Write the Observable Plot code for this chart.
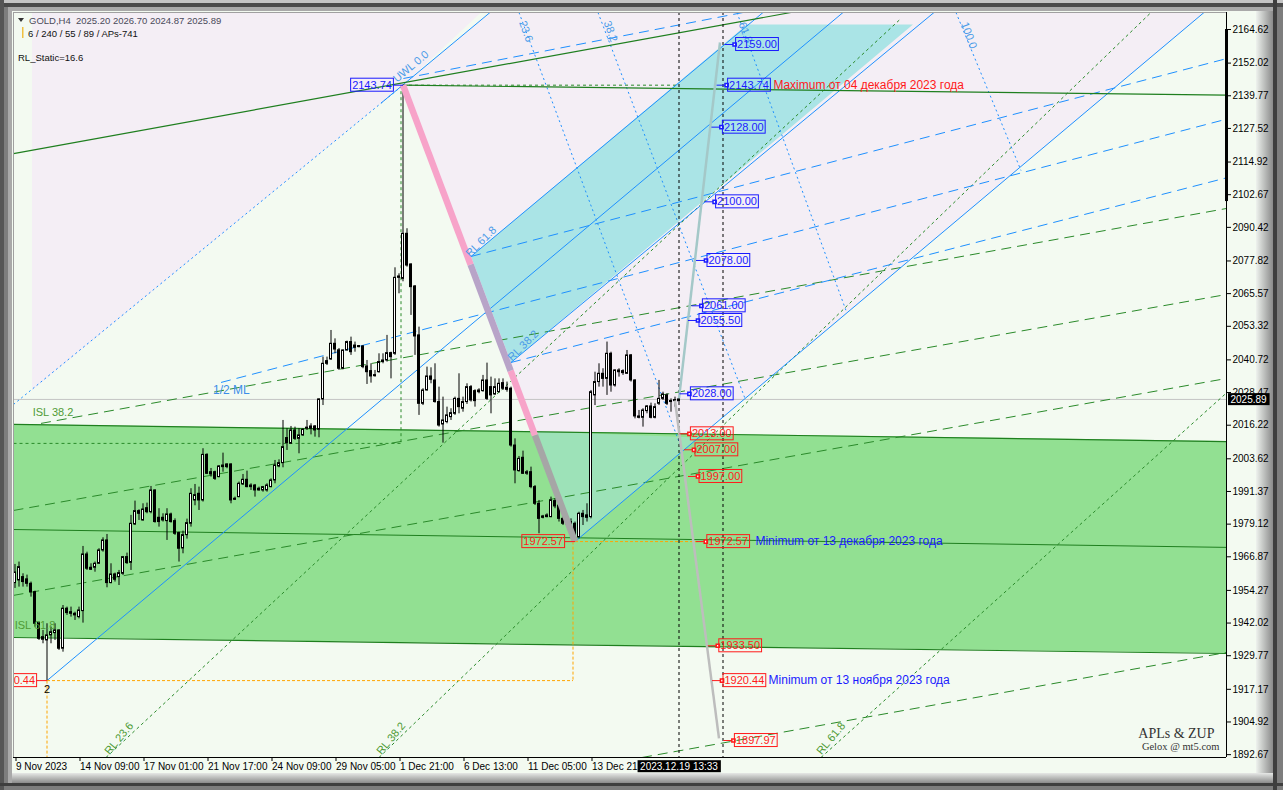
<!DOCTYPE html>
<html><head><meta charset="utf-8">
<script src="https://cdn.jsdelivr.net/npm/d3@7"></script>
<script src="https://cdn.jsdelivr.net/npm/@observablehq/plot@0.6"></script>
<style>
html,body{margin:0;padding:0;background:#7d7d7d;}
#chart{width:1283px;height:790px;overflow:hidden;}
svg{display:block;}
</style></head><body><div id="chart"></div>
<script>
// ---------- candle data (GOLD, H4) ----------
const opens = [
1957,1958.0,1959.25,1958.4,1956.75,1953.6,1942.1,1935.75,1935.5,1937.4,
1938.25,1939.25,1932.4,1947.4,1946.1,1945.5,1944.25,1946.5,1967.75,1962.75,
1962.75,1964.25,1969.25,1973.0,1957.0,1960.25,1959.25,1960.5,1966.75,1964.6,
1979.0,1984.0,1980.5,1985.1,1983.6,1991.75,1981.5,1981.5,1980.25,1982.75,
1980.25,1975.75,1970,1975,1979.25,1988,1990.5,1988.0,2005.1,1998.6,
1998.6,1996.75,2000.5,2001.5,2001.5,1988.6,1989.25,1994.0,1995.75,1993.6,
1993.6,1992.4,1991.75,1991.75,1993.0,1995.5,2000.75,2002.0,2011.4,2009.25,
2014.25,2011.1,2012.4,2014.9,2015.75,2015.75,2014.5,2025.9,2040.25,2040.9,
2046.75,2044.3,2037.4,2044.25,2047.4,2046.1,2045.75,2045.75,2038.25,2036.5,
2034.9,2036.1,2039.9,2040.5,2043.25,2043.0,2072.0,2071.1,2088.0,2076.5,
2068.25,2049.9,2024.25,2029.25,2034.5,2033.0,2024.9,2016.5,2017.4,2019.25,
2020.5,2026.1,2022.4,2024.9,2030.5,2029.0,2029.25,2029.0,2033.0,2030.5,
2027.75,2028.6,2032.0,2030.25,2029.9,2008.6,1999.0,2004.0,1998.0,1998.6,
1993.0,1986.75,1982.0,1981.75,1981.75,1987.75,1986.1,1981.1,1979.5,1979.9,
1979.25,1974.25,1983.0,1982.4,1981.75,2027.4,2032.4,2035.5,2033.6,2043.0,
2031.1,2036.75,2036.5,2035.5,2042.4,2033.0,2019.5,2019.0,2021.5,2023.25,
2019.0,2024.25,2026.1,2027.4,2025.25,2025.25,2025.20];
const highs = [
1964,1964.9,1960.5,1960,1957.4,1954,1942.4,1939.25,1941.75,1940.5,
1941.75,1939.5,1948.6,1948,1948,1946.1,1948,1970.75,1968.6,1964.25,
1964.9,1969.9,1974.0,1975.25,1964.25,1960.75,1961.75,1967.0,1968.25,1982.4,
1987.75,1984.5,1986.75,1987.0,1993.25,1992.0,1984.9,1983.0,1984.9,1983.25,
1981.1,1976.1,1976.5,1981,1992.4,1994,1993,2007.4,2005.5,2000,
1999,2001.1,2005.75,2001.75,2001.75,1989.25,1994.9,1997.75,1999,1994.25,
1994,1993,1993.25,1994.25,1996.1,2003,2003.25,2018.0,2014.9,2015.75,
2015.5,2014.9,2014.9,2018.0,2016.75,2016.1,2026.1,2041.75,2041.75,2051.75,
2048.6,2045,2044.5,2047.75,2049.25,2047.4,2046.1,2046.1,2040.5,2039.25,
2036.75,2043.0,2043.0,2049.9,2043.6,2075.25,2073.0,2143.74,2089.9,2076.75,
2068.6,2053,2029.9,2038.0,2037.75,2039.25,2030.5,2026.75,2023.0,2022.4,
2026.75,2035.5,2026.75,2031.75,2031.1,2029.5,2029.9,2034.9,2039.5,2034.25,
2033.6,2033.6,2033.6,2032.4,2030.5,2011.1,2004.5,2006.5,1999.25,2000.5,
1993.6,1988.0,1982.4,1983.0,1989.25,1988.6,1989.25,1984.25,1980.5,1981.1,
1979.9,1983.6,1984.25,1986.75,2029.25,2036.1,2039.25,2037.4,2047.4,2043.6,
2037.0,2037.4,2037.0,2044.25,2042.75,2033.25,2021.75,2022.4,2023.6,2024.5,
2024.25,2033.0,2028.6,2028.0,2026.1,2026.75,2026.70];
const lows = [
1955,1955.5,1955.5,1955.5,1951.75,1940.5,1935.5,1934.25,1920.44,1934.25,
1935.5,1931.75,1931.1,1944.9,1944.25,1943.0,1943.6,1942.0,1961.75,1961.75,
1961.1,1964.0,1968.6,1955.25,1956.75,1957.4,1956.1,1959.9,1964.0,1961.75,
1978.6,1980.5,1980.25,1983.0,1983.0,1979.5,1978.0,1979.9,1973.0,1979.5,
1974.9,1964.9,1968,1973.5,1978,1986,1984.25,1987.4,1997.75,1996.75,
1995.5,1996.5,1998.6,1999.9,1986.75,1988.0,1989.0,1993.6,1992.75,1991.75,
1989.25,1991.5,1991.1,1991.1,1992.75,1994.25,2000.25,2000.25,2006.75,2009.0,
2010.5,2005.5,2012.0,2014.25,2012.6,2011.75,2011.5,2023.6,2038.6,2040.5,
2043.0,2036.75,2037.0,2044.0,2042.4,2043.6,2045.25,2037.4,2031.5,2032.0,
2034.25,2035.75,2039.25,2039.9,2033.6,2042.4,2065.5,2070,2075.5,2057.4,
2042.4,2019.9,2023.6,2029.0,2031.75,2024.5,2015.5,2009.5,2016.75,2018.0,
2019.9,2020.5,2021.1,2024.0,2024.9,2023.0,2028.0,2028.6,2025.5,2020.5,
2027.4,2028.25,2029.25,2028.6,2008.0,1994.25,1998.6,1997.75,1997.4,1992.4,
1986.1,1975.5,1981.1,1981.5,1981.5,1984.9,1979.9,1978.6,1978.6,1978.25,
1972.57,1973.6,1978.6,1979.9,1981.1,2023.6,2030.5,2030.5,2027.4,2028.6,
2030.5,2034.25,2034.9,2035.25,2032.4,2018.6,2018.6,2015.5,2020.5,2018.6,
2018.6,2023.6,2025.5,2023.6,2021.1,2023.0,2024.87];
const closes = [
1961,1963.0,1957.4,1956.75,1953.6,1941.75,1936.1,1936.75,1937.4,1938.6,
1939.25,1932.4,1947.4,1945.75,1945.5,1944.9,1946.75,1967.75,1962.4,1962.0,
1964.25,1969.25,1973.0,1957.0,1960.25,1958.25,1960.75,1966.75,1964.5,1979.25,
1984.0,1983.0,1984.6,1983.6,1991.75,1979.9,1979.9,1980.5,1982.75,1979.9,
1975.5,1969.9,1975,1979.5,1990.5,1990,1988.0,2005.1,1998.0,1997.75,
1996.1,2000.75,2001.1,2000.5,1988.0,1988.25,1994.25,1995.75,1993.0,1993.0,
1991.75,1991.75,1993.0,1993.6,1995.5,2001.1,2002.0,2008.0,2009.5,2014.25,
2011.1,2012.4,2014.5,2015.25,2014.9,2014.25,2025.9,2039.25,2039.25,2046.75,
2044.6,2037.4,2044.25,2047.4,2043.6,2045.25,2045.5,2038.0,2036.1,2034.5,
2034.6,2039.9,2040.5,2043.25,2041.75,2071.5,2071.5,2088.0,2076.1,2068.0,
2049.5,2024.25,2029.25,2034.5,2033.25,2024.9,2016.1,2018.0,2019.9,2020.75,
2026.1,2023.0,2024.9,2030.5,2025.5,2025.25,2028.6,2033.0,2026.1,2027.4,
2030.5,2031.75,2029.9,2029.5,2008.6,1999.25,2003.6,1998.0,1998.6,1993.0,
1986.75,1981.1,1981.5,1982.4,1988.0,1985.75,1981.1,1979.25,1979.0,1979.0,
1974.25,1983.0,1981.75,1981.5,2028.6,2032.4,2035.5,2033.6,2043.0,2031.1,
2036.75,2036.1,2035.75,2042.4,2033.0,2019.5,2019.0,2021.75,2023.25,2019.0,
2023.0,2026.1,2027.75,2024.25,2024.9,2025.5,2025.89];

// ---------- axes ----------
const yTicks = [2164.62,2152.02,2139.77,2127.52,2114.92,2102.67,2090.42,2077.82,2065.57,2053.32,2040.72,2028.47,2016.22,2003.62,1991.37,1979.12,1966.87,1954.27,1942.02,1929.77,1917.17,1904.92,1892.67];
const xTickIdx = [0,16,32,48,64,80,96,112,128,144];
const xTickLabels = ["9 Nov 2023","14 Nov 09:00","17 Nov 01:00","21 Nov 17:00","24 Nov 09:00","29 Nov 05:00","1 Dec 21:00","6 Dec 13:00","11 Dec 05:00","13 Dec 21:00"];
const xDomain = [-0.375, 302.875];   // bar index
const yDomain = [1891.6, 2171.0];    // price
const lastPrice = 2025.89;
const cursorBar = 166;
const cursorLabel = "2023.12.19 13:33";

// ---------- channel (green band) in bar index / price ----------
const bandX = [-0.375, 302.875];
const bandTop = [2016.5, 2010.1];
const bandMid = [1977.1, 1970.4];
const bandBot = [1936.6, 1930.6];

// ---------- filled zones ----------
const lavenderA = [{i:4.25,p:2171},{i:116.5,p:2171},{i:97,p:2143.74},{i:4.25,p:2029.25}];
const lavenderB = [{i:97,p:2143.74},{i:119,p:2171},{i:297.25,p:2171},{i:140,p:1972.57}];
const cyanZone = [{i:114,p:2079.5},{i:183,p:2166.5},{i:224.5,p:2166.5},{i:124,p:2039.75}];
const cyanTri = [{i:130,p:2013.9},{i:140,p:1972.57},{i:171,p:2011.6}];

// ---------- trend lines (bar index, price) ----------
const greenSolidSegs = [
  {x1:-0.375,y1:2118.1,x2:194,y2:2171.0},
  {x1:97,y1:2143.74,x2:302.875,y2:2140.0}
];
const greenDashSegs = [
  {x1:6.5,y1:2016.9,x2:302.875,y2:2097.5},
  {x1:-0.375,y1:1984.25,x2:302.875,y2:2065.25},
  {x1:-0.375,y1:1952.4,x2:302.875,y2:2033.75},
  {x1:156.75,y1:1891.6,x2:302.875,y2:1931.0}
];
const greenDotSegs = [
  {x1:97,y1:2143.74,x2:166,y2:2143.74},
  {x1:96.5,y1:2143.74,x2:96.5,y2:2009.4},
  {x1:-0.375,y1:2009.4,x2:96.5,y2:2009.4},
  {x1:22.75,y1:1891.6,x2:221.5,y2:2168.75},
  {x1:91,y1:1891.6,x2:284,y2:2171},
  {x1:201.5,y1:1891.6,x2:303,y2:2028.5}
];
const blueSolidSegs = [
  {x1:8,y1:1920.44,x2:207,y2:2171},
  {x1:114,y1:2079.5,x2:187,y2:2171},
  {x1:124,y1:2039.75,x2:229.75,y2:2171},
  {x1:140,y1:1972.57,x2:297.25,y2:2171},
  {x1:91.5,y1:2137,x2:118.75,y2:2171}
];
const blueDashSegs = [
  {x1:124,y1:2039.75,x2:302.875,y2:2109.0},
  {x1:51.5,y1:2032.25,x2:302.875,y2:2131.0},
  {x1:114,y1:2079.5,x2:302.875,y2:2153.7},
  {x1:97.1,y1:2146.25,x2:182,y2:2171}
];
const blueDotSegs = [
  {x1:-0.375,y1:2024.0,x2:97,y2:2143.74},
  {x1:126,y1:2171,x2:166.5,y2:2008},
  {x1:145.75,y1:2171,x2:182.5,y2:2026.25},
  {x1:180.5,y1:2171,x2:207.75,y2:2059.25},
  {x1:235.25,y1:2171,x2:251.5,y2:2111.75}
];
const orangeSegs = [
  {x1:8,y1:1920.44,x2:139.5,y2:1920.44},
  {x1:139.5,y1:1972.57,x2:139.5,y2:1920.44},
  {x1:8,y1:1920.44,x2:8,y2:1891.6},
  {x1:140,y1:1972.57,x2:172.75,y2:1972.57}
];
const blackDashX = [166, 177];
// swing line from the 04 Dec high to the 13 Dec low, split by background it crosses
const swingPink = [
  {x1:97,y1:2143.74,x2:113.9,y2:2076.46},
  {x1:123.9,y1:2036.65,x2:130,y2:2012.37}
];
const swingOverCyan = [{x1:113.9,y1:2076.46,x2:123.9,y2:2036.65}];
const swingOverGreen = [{x1:130,y1:2012.37,x2:140,y2:1972.57}];
const grayUpSeg = [{x1:166,y1:2026.25,x2:176.25,y2:2159.75}];
const grayDownSeg = [{x1:165,y1:2025.5,x2:176,y2:1898.75}];
const scaleBar = [{i:302.875,a:2164.62,b:2100.1}];

// ---------- price level labels ----------
const blueLevels = [2159.00,2143.74,2128.00,2100.00,2078.00,2061.00,2055.50,2028.00];
const blueAt     = [179.9,177.9,176.6,174.9,172.75,171.6,170.75,168.6];
const redLevels  = [2013.00,2007.00,1997.00,1972.57,1933.50,1920.44,1897.97];
const redAt      = [168.6,169.75,170.75,172.7,175.7,176.75,179.6];
const leftBlue = [{p:2143.74,i:94.6,m:97}];
const leftRed  = [{p:1972.57,i:137.4,m:140},{p:1920.44,i:5.4,m:8}];
const notes = [
  {t:"Maximum от 04 декабря 2023 года", i:189.6, p:2143.74, red:true},
  {t:"Minimum от 13 декабря 2023 года", i:185.1, p:1972.57, red:false},
  {t:"Minimum от 13 ноября 2023 года",  i:188.4, p:1920.44, red:false}
];
const blueLineLabels = [
  {t:"UWL 0.0", i:99, p:2150.75, r:-40},
  {t:"23.6", i:127.75, p:2163.9, r:70},
  {t:"38.2", i:148.9, p:2163.9, r:70},
  {t:"61.8", i:182.6, p:2163.5, r:70},
  {t:"100.0", i:238.5, p:2162.4, r:70},
  {t:"RL 61.8", i:116.5, p:2085.1, r:-45},
  {t:"RL 38.2", i:127, p:2046.1, r:-45}
];
const greenLineLabels = [
  {t:"ISL 38.2", i:9.5, p:2021, r:0},
  {t:"ISL 61.8", i:5, p:1941.1, r:0},
  {t:"RL 23.6", i:26, p:1898.75, r:-50},
  {t:"RL 38.2", i:94, p:1898.75, r:-50},
  {t:"RL 61.8", i:204, p:1898.75, r:-50}
];

// ---------- build ----------
const candles = opens.map((o, i) => ({i, o, h: highs[i], l: lows[i], c: closes[i]}));
const bull = candles.filter(d => d.c >= d.o), bear = candles.filter(d => d.c < d.o);
const lo = d => Math.min(d.o, d.c);
const hi = d => Math.max(Math.max(d.o, d.c), Math.min(d.o, d.c) + 0.4);
const bandRows = bandX.map((x, k) => ({x, top: bandTop[k], mid: bandMid[k], bot: bandBot[k]}));
const blueBoxes = blueLevels.map((p, k) => ({p, i: blueAt[k]}));
const redBoxes = redLevels.map((p, k) => ({p, i: redAt[k]}));
const BLUE = "#1a1aff", RED = "#ff1a1a", LB = "#1e90ff", DG = "#1f7f1f";
const F = "'Liberation Sans', Arial, sans-serif";
const seg = {x1:"x1", y1:"y1", x2:"x2", y2:"y2", clip:true};

const plot = Plot.plot({
  width: 1283, height: 790,
  marginLeft: 13, marginRight: 57, marginTop: 12, marginBottom: 33,
  x: {domain: xDomain, label: null},
  y: {domain: yDomain, label: null},
  style: {background: "transparent", fontFamily: F, fontSize: "10px", color: "#000", overflow: "visible"},
  marks: [
    Plot.line(lavenderA, {x:"i", y:"p", fill:"#f4eef5", stroke:"none", clip:true}),
    Plot.line(lavenderB, {x:"i", y:"p", fill:"#f4eef5", stroke:"none", clip:true}),
    Plot.areaY(bandRows, {x:"x", y1:"bot", y2:"top", fill:"#92e092"}),
    Plot.line(cyanZone, {x:"i", y:"p", fill:"#aae4e6", stroke:"none", clip:true}),
    Plot.line(cyanTri, {x:"i", y:"p", fill:"#aae4e6", fillOpacity:0.45, stroke:"none", clip:true}),
    Plot.line(bandRows, {x:"x", y:"top", stroke:DG, strokeWidth:1.2}),
    Plot.line(bandRows, {x:"x", y:"mid", stroke:DG, strokeWidth:1}),
    Plot.line(bandRows, {x:"x", y:"bot", stroke:DG, strokeWidth:1.2}),
    Plot.ruleY([lastPrice], {stroke:"#c4c4c4"}),
    Plot.link(greenDashSegs, {...seg, stroke:"#2a8a2a", strokeDasharray:"10,6"}),
    Plot.link(greenDotSegs, {...seg, stroke:"#2a8a2a", strokeDasharray:"3,3"}),
    Plot.link(blueDashSegs, {...seg, stroke:LB, strokeDasharray:"10,6"}),
    Plot.link(blueDotSegs, {...seg, stroke:LB, strokeDasharray:"2,3"}),
    Plot.link(blueSolidSegs, {...seg, stroke:LB}),
    Plot.link(greenSolidSegs, {...seg, stroke:DG, strokeWidth:1.2}),
    Plot.link(orangeSegs, {...seg, stroke:"#ffa500", strokeDasharray:"3,2"}),
    Plot.ruleX(blackDashX, {stroke:"#000", strokeDasharray:"3,3"}),
    // candles
    Plot.ruleX(candles, {x:"i", y1:"l", y2:"h", stroke:"#000"}),
    Plot.rect(bull, {x1:d=>d.i-0.25, x2:d=>d.i+0.25, y1:lo, y2:hi, fill:"#fff", stroke:"#000"}),
    Plot.rect(bear, {x1:d=>d.i-0.25, x2:d=>d.i+0.25, y1:lo, y2:hi, fill:"#000", stroke:"#000"}),
    Plot.link(swingPink, {...seg, stroke:"#f7a3c9", strokeWidth:6.5}),
    Plot.link(swingOverCyan, {...seg, stroke:"#b8a4c8", strokeWidth:6.5}),
    Plot.link(swingOverGreen, {...seg, stroke:"#a6a6a6", strokeWidth:6.5}),
    Plot.link(grayUpSeg, {...seg, stroke:"#a4c8c8", strokeWidth:2.5}),
    Plot.link(grayDownSeg, {...seg, stroke:"#bdbdbd", strokeWidth:2.5}),
    // line labels
    Plot.text(blueLineLabels, {x:"i", y:"p", text:"t", rotate:"r", fill:"#4a9be8", fontSize:11}),
    Plot.text([{t:"1/2 ML", i:54.1, p:2029.25}], {x:"i", y:"p", text:"t", fill:"#3c8ee8", fontSize:12}),
    Plot.text(greenLineLabels, {x:"i", y:"p", text:"t", rotate:"r", fill:"#4f9a35", fontSize:11, clip:true}),
    // level markers
    Plot.link(blueBoxes, {x1:d=>d.i-2.5, x2:"i", y1:"p", y2:"p", stroke:BLUE}),
    Plot.link(redBoxes, {x1:d=>d.i-2.5, x2:"i", y1:"p", y2:"p", stroke:RED}),
    Plot.dot(blueBoxes, {x:"i", y:"p", symbol:"square", r:1.8, stroke:BLUE, fill:"#fff"}),
    Plot.dot(redBoxes, {x:"i", y:"p", symbol:"square", r:1.8, stroke:RED, fill:"#fff"}),
    Plot.text(blueBoxes, {x:"i", y:"p", text:d=>d.p.toFixed(2), textAnchor:"start", dx:2.5, fill:BLUE, fontSize:11, ariaDescription:"box-blue"}),
    Plot.text(redBoxes, {x:"i", y:"p", text:d=>d.p.toFixed(2), textAnchor:"start", dx:2.5, fill:RED, fontSize:11, ariaDescription:"box-red"}),
    Plot.link(leftBlue, {x1:"i", x2:"m", y1:"p", y2:"p", stroke:BLUE}),
    Plot.link(leftRed, {x1:"i", x2:"m", y1:"p", y2:"p", stroke:RED, clip:true}),
    Plot.text(leftBlue, {x:"i", y:"p", text:d=>d.p.toFixed(2), textAnchor:"end", dx:-1.5, fill:BLUE, fontSize:11, ariaDescription:"box-blue"}),
    Plot.text(leftRed, {x:"i", y:"p", text:d=>d.p.toFixed(2), textAnchor:"end", dx:-1.5, fill:RED, fontSize:11, ariaDescription:"box-red", clip:true}),
    Plot.text([{i:8, p:1920.44}], {x:"i", y:"p", text:()=>"2", dy:9, fill:"#000", fontSize:11}),
    Plot.text(notes.filter(d=>d.red), {x:"i", y:"p", text:"t", textAnchor:"start", fill:RED, fontSize:12}),
    Plot.text(notes.filter(d=>!d.red), {x:"i", y:"p", text:"t", textAnchor:"start", fill:BLUE, fontSize:12}),
    Plot.text(["APLs & ZUP"], {frameAnchor:"bottom-right", textAnchor:"end", lineAnchor:"middle", dx:-12, dy:-24, fontFamily:"'Liberation Serif', 'DejaVu Serif', serif", fontSize:14, fill:"#333"}),
    Plot.text(["Gelox @ mt5.com"], {frameAnchor:"bottom-right", textAnchor:"end", lineAnchor:"middle", dx:-7, dy:-11, fontFamily:"'Liberation Serif', 'DejaVu Serif', serif", fontSize:10.5, fill:"#333"}),
    // frame & axes
    Plot.ruleX([xDomain[0]], {stroke:"#a0a0a0"}),
    Plot.ruleY([yDomain[1]], {stroke:"#a0a0a0"}),
    Plot.ruleX([xDomain[1]], {stroke:"#000"}),
    Plot.ruleY([yDomain[0]], {stroke:"#000"}),
    Plot.ruleX(scaleBar, {x:"i", y1:"a", y2:"b", stroke:"#000", strokeWidth:3}),
    Plot.axisY({anchor:"right", ticks:yTicks, tickFormat:d=>d.toFixed(2), tickSize:4, tickPadding:2, fontSize:10, label:null}),
    Plot.axisX({anchor:"bottom", ticks:xTickIdx, tickFormat:d=>xTickLabels[xTickIdx.indexOf(d)], tickSize:4, tickPadding:1, textAnchor:"start", dx:1, fontSize:10, label:null}),
    Plot.text([{i:cursorBar}], {x:"i", frameAnchor:"bottom", lineAnchor:"middle", dy:9, text:()=>cursorLabel, fill:"#fff", fontSize:10, ariaDescription:"box-black"}),
    Plot.text([{i:xDomain[1], p:lastPrice}], {x:"i", y:"p", text:d=>d.p.toFixed(2), textAnchor:"start", dx:4, fill:"#fff", fontSize:10, ariaDescription:"box-black"})
  ]
});
document.getElementById("chart").appendChild(plot);

// ---------- boxes behind labels ----------
function boxify(root, label, {stroke="none", fill="none", px=1.5, py=0.5}) {
  root.querySelectorAll(`g[aria-description="${label}"] text`).forEach(t => {
    const b = t.getBBox();
    const r = document.createElementNS("http://www.w3.org/2000/svg", "rect");
    r.setAttribute("x", b.x - px); r.setAttribute("y", b.y - py);
    r.setAttribute("width", b.width + 2 * px); r.setAttribute("height", b.height + 2 * py);
    r.setAttribute("fill", fill); r.setAttribute("stroke", stroke);
    const tr = t.getAttribute("transform"); if (tr) r.setAttribute("transform", tr);
    t.parentNode.insertBefore(r, t);
  });
}
boxify(plot, "box-blue", {stroke: BLUE});
boxify(plot, "box-red", {stroke: RED});
boxify(plot, "box-black", {fill: "#000", px: 2.5, py: 0.5});

// ---------- window decoration & header ----------
const s = d3.select(plot);
const deco = s.insert("g", ":first-child");
const defs = s.insert("defs", ":first-child");
const gr = defs.append("linearGradient").attr("id","gr").attr("x1",0).attr("x2",1).attr("y1",0).attr("y2",0);
gr.append("stop").attr("offset",0).attr("stop-color","#eef2ee");
gr.append("stop").attr("offset",1).attr("stop-color","#8a8a8a");
const gb = defs.append("linearGradient").attr("id","gb").attr("x1",0).attr("x2",0).attr("y1",0).attr("y2",1);
gb.append("stop").attr("offset",0).attr("stop-color","#e6e8e6");
gb.append("stop").attr("offset",1).attr("stop-color","#8a8a8a");
[[0,0,1283,790,"#7d7d7d"],[0,0,1283,3,"#c4c4c4"],[0,3,1283,4,"#4a4a4a"],[0,0,4,790,"#555"],
 [1273,0,4,790,"#3e3e3e"],[0,783,1283,3,"#3e3e3e"],[8,7,1265,776,"#a9a9a9"],
 [12,11,1252,764,"#f3faf1"],[1256,11,17,764,"url(#gr)"],[12,773,1261,10,"url(#gb)"]]
 .forEach(([x,y,w,h,f]) => deco.append("rect").attr("x",x).attr("y",y).attr("width",w).attr("height",h).attr("fill",f));

const hdr = s.append("g").attr("font-family", F).attr("font-size", 9.5).attr("text-anchor", "start").style("white-space","pre");
hdr.append("path").attr("d","M18,18L24,18L21,22Z").attr("fill","#333");
hdr.append("text").attr("x",29).attr("y",24).attr("fill","#4a4a5a").text("GOLD,H4  2025.20 2026.70 2024.87 2025.89");
hdr.append("rect").attr("x",22).attr("y",27).attr("width",1.5).attr("height",11).attr("fill","#f0c040");
hdr.append("text").attr("x",28).attr("y",37).attr("fill","#111").text("6 / 240 / 55 / 89 / APs-741");
hdr.append("text").attr("x",18).attr("y",61).attr("fill","#111").text("RL_Static=16.6");
</script>
</body></html>
